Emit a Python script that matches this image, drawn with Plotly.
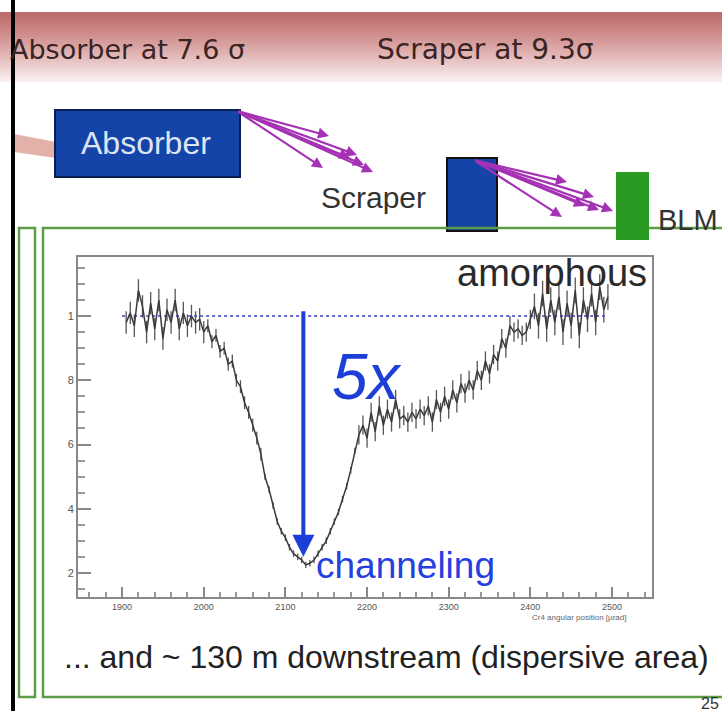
import plotly.graph_objects as go

W, H = 722, 711

# Normalised beam-loss signal vs crystal angle (µrad)
angle = list(range(1905, 2500, 5))
loss = [
    0.98, 1.01, 0.97, 1.08, 1.03, 0.95, 1.04, 0.96, 1.05, 0.93,
    1.02, 0.98, 1.05, 0.96, 1.01, 0.97, 1.00, 0.98, 0.99, 0.95,
    0.97, 0.92, 0.94, 0.89, 0.90, 0.85, 0.86, 0.80, 0.78, 0.73,
    0.70, 0.66, 0.62, 0.57, 0.50, 0.46, 0.41, 0.36, 0.33, 0.31,
    0.28, 0.26, 0.25, 0.24, 0.225, 0.23, 0.24, 0.26, 0.28, 0.30,
    0.33, 0.36, 0.39, 0.43, 0.47, 0.52, 0.58, 0.63, 0.66, 0.62,
    0.70, 0.64, 0.72, 0.66, 0.71, 0.67, 0.74, 0.68, 0.69, 0.67,
    0.70, 0.68, 0.71, 0.69, 0.72, 0.67, 0.74, 0.70, 0.75, 0.71,
    0.77, 0.73, 0.79, 0.76, 0.80, 0.77, 0.83, 0.80, 0.86, 0.82,
    0.88, 0.86, 0.93, 0.90, 0.97, 0.95, 0.96, 0.94, 0.95, 0.99,
    1.03, 0.97, 1.07, 0.96, 1.05, 0.98, 1.06, 0.95, 1.04, 0.97,
    1.08, 0.94, 1.05, 0.99, 1.07, 0.98, 1.09, 1.02, 1.06,
]
# statistical uncertainty per bin
loss_err = [
    0.035, 0.035, 0.035, 0.035, 0.035, 0.035, 0.035, 0.035, 0.035, 0.035,
    0.035, 0.035, 0.035, 0.035, 0.035, 0.035, 0.035, 0.035, 0.035, 0.035,
    0.02, 0.02, 0.02, 0.02, 0.02, 0.02, 0.02, 0.02, 0.02, 0.02,
    0.02, 0.02, 0.02, 0.02, 0.01, 0.01, 0.01, 0.01, 0.01, 0.01,
    0.01, 0.01, 0.01, 0.01, 0.01, 0.01, 0.01, 0.01, 0.01, 0.01,
    0.01, 0.01, 0.01, 0.01, 0.01, 0.01, 0.01, 0.03, 0.03, 0.03,
    0.03, 0.03, 0.03, 0.03, 0.03, 0.03, 0.03, 0.03, 0.03, 0.03,
    0.03, 0.03, 0.03, 0.03, 0.03, 0.03, 0.03, 0.03, 0.03, 0.03,
    0.03, 0.03, 0.03, 0.03, 0.03, 0.03, 0.03, 0.03, 0.03, 0.03,
    0.03, 0.03, 0.03, 0.03, 0.03, 0.03, 0.03, 0.03, 0.03, 0.03,
    0.04, 0.04, 0.04, 0.04, 0.04, 0.04, 0.04, 0.04, 0.04, 0.04,
    0.04, 0.04, 0.04, 0.04, 0.04, 0.04, 0.04, 0.04, 0.04,
]
ref_level = 1.0
ref_span = [1900, 2495]
arrow_angle = 2122
arrow_top, arrow_bottom = 1.02, 0.25

y_tickvals = [0.2, 0.4, 0.6, 0.8, 1.0]
y_ticktext = ["2", "4", "6", "8", "1"]
x_tickvals = [1900, 2000, 2100, 2200, 2300, 2400, 2500]


def px(x):
    return x / W


def py(y):
    return 1 - y / H


fig = go.Figure()

fig.add_trace(go.Scatter(
    x=ref_span, y=[ref_level, ref_level], mode="lines",
    line=dict(color="#3a3ad0", width=1.5, dash="dot"), hoverinfo="skip",
))
fig.add_trace(go.Scatter(
    x=angle, y=loss, mode="lines",
    line=dict(color="#3a3a3a", width=1.5),
    error_y=dict(type="data", array=loss_err, width=0, thickness=1.3, color="#555555"),
    hoverinfo="skip",
))

shapes = []
# title band with a vertical fade
top, bot = 12, 82
for i in range(top, bot):
    t = (i - top) / (bot - top)
    r = int(188 + (252 - 188) * t)
    g = int(108 + (244 - 108) * t ** 1.2)
    b = int(108 + (244 - 108) * t ** 1.2)
    shapes.append(dict(type="rect", xref="paper", yref="paper",
                       x0=0, x1=1, y0=py(i + 1.05), y1=py(i),
                       fillcolor=f"rgb({r},{g},{b})", line=dict(width=0),
                       layer="below"))

# incoming beam
shapes.append(dict(type="path", xref="paper", yref="paper",
                   path=f"M {px(14)},{py(134)} L {px(56)},{py(142)} L {px(56)},{py(158)} L {px(14)},{py(152)} Z",
                   fillcolor="#e2b2aa", line=dict(width=0)))
# absorber block
shapes.append(dict(type="rect", xref="paper", yref="paper",
                   x0=px(55), x1=px(240), y0=py(177), y1=py(110),
                   fillcolor="#1444a8", line=dict(color="#0a1e50", width=2)))
# scraper block
shapes.append(dict(type="rect", xref="paper", yref="paper",
                   x0=px(447), x1=px(497), y0=py(231), y1=py(158),
                   fillcolor="#1444a8", line=dict(color="#101010", width=2)))
# green frames
shapes.append(dict(type="rect", xref="paper", yref="paper",
                   x0=px(43), x1=px(740), y0=py(697), y1=py(228),
                   line=dict(color="#5c9c44", width=2.5)))
shapes.append(dict(type="rect", xref="paper", yref="paper",
                   x0=px(19), x1=px(35), y0=py(697), y1=py(228),
                   line=dict(color="#5c9c44", width=2.5)))
# BLM
shapes.append(dict(type="rect", xref="paper", yref="paper",
                   x0=px(616), x1=px(649), y0=py(240), y1=py(172),
                   fillcolor="#2a9a22", line=dict(width=0)))
# black slide edge
shapes.append(dict(type="rect", xref="paper", yref="paper",
                   x0=px(11), x1=px(15), y0=0, y1=1,
                   fillcolor="#000000", line=dict(width=0)))

ann = []


def text(x, y, s, size, color, family="Liberation Sans", anchor="center", italic=False):
    ann.append(dict(x=px(x), y=py(y), xref="paper", yref="paper", text=s,
                    showarrow=False, xanchor=anchor, yanchor="middle",
                    font=dict(size=size, color=color, family=family,
                              style="italic" if italic else "normal")))


text(8, 50, "Absorber at 7.6 σ", 27, "#3a2424", "DejaVu Sans", "left")
text(375, 50, "Scraper at 9.3σ", 28, "#3a2424", "DejaVu Sans", "left")
text(146, 143, "Absorber", 32, "#dde4f4")
text(319, 197, "Scraper", 30, "#333333", anchor="left")
text(656, 220, "BLM", 29, "#333333", anchor="left")
text(62, 657, "... and ~ 130 m downstream (dispersive area)", 32, "#222222", anchor="left")
text(721, 703, "25", 16, "#333333", anchor="right")

# secondary-particle showers
for tail, tips in [((237, 111), [(329, 136), (350, 158), (357, 155), (373, 172), (323, 168), (364, 165)]),
                   ((474, 160), [(567, 182), (594, 197), (613, 211), (562, 217), (599, 210), (585, 206)])]:
    for tx, ty in tips:
        ann.append(dict(x=px(tx), y=py(ty), xref="paper", yref="paper",
                        ax=tail[0] - tx, ay=tail[1] - ty, axref="pixel", ayref="pixel",
                        showarrow=True, arrowhead=2, arrowsize=1, arrowwidth=2.2,
                        arrowcolor="#a532b4", text=""))

# plot annotations
ann.append(dict(x=arrow_angle, y=arrow_bottom, xref="x", yref="y",
                ax=arrow_angle, ay=arrow_top, axref="x", ayref="y",
                showarrow=True, arrowhead=2, arrowsize=1.1, arrowwidth=4,
                arrowcolor="#1c3fd8", text=""))
ann.append(dict(x=2200, y=0.81, xref="x", yref="y", text="5x", showarrow=False,
                font=dict(size=64, color="#1c3fd8", family="Liberation Sans", style="italic")))
ann.append(dict(x=2135, y=0.222, xref="x", yref="y", text="channeling", showarrow=False,
                xanchor="left", font=dict(size=37, color="#2440e0", family="Liberation Sans")))
ann.append(dict(x=2545, y=1.134, xref="x", yref="y", text="amorphous", showarrow=False,
                xanchor="right", font=dict(size=38, color="#2a2a2a", family="Liberation Sans")))
ann.append(dict(x=px(628), y=py(624), xref="paper", yref="paper",
                text="Cr4 angular position [µrad]", showarrow=False, xanchor="right",
                font=dict(size=8, color="#666666", family="Liberation Sans")))

fig.update_layout(
    width=W, height=H, autosize=False,
    margin=dict(l=0, r=0, t=0, b=0),
    paper_bgcolor="white", plot_bgcolor="white",
    showlegend=False,
    shapes=shapes, annotations=ann,
    xaxis=dict(domain=[px(78), px(652)], range=[1846, 2549],
               tickvals=x_tickvals, ticks="inside", ticklen=10, tickwidth=1.5,
               tickcolor="#888", showgrid=False, zeroline=False,
               showline=True, linecolor="#888", linewidth=2, mirror=True,
               tickfont=dict(size=9, color="#555", family="Liberation Sans"),
               minor=dict(dtick=20, tick0=1900, ticks="inside", ticklen=5, tickcolor="#999")),
    yaxis=dict(domain=[py(597), py(257)], range=[0.125, 1.184],
               tickvals=y_tickvals, ticktext=y_ticktext,
               ticks="inside", ticklen=13, tickwidth=1.5,
               tickcolor="#888", showgrid=False, zeroline=False,
               showline=True, linecolor="#888", linewidth=2, mirror=True,
               tickfont=dict(size=11, color="#555", family="Liberation Sans"),
               minor=dict(dtick=0.05, tick0=0.2, ticks="inside", ticklen=7, tickcolor="#999")),
)

fig.write_html("out.html")
